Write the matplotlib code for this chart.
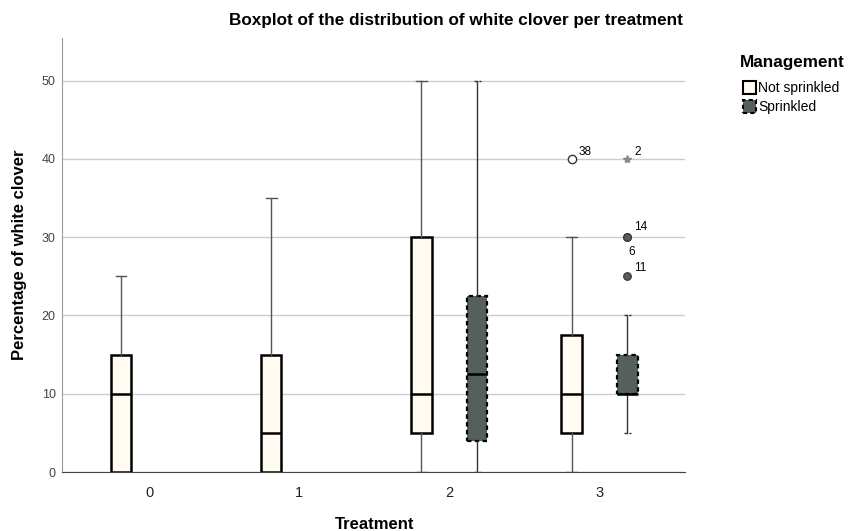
import matplotlib
matplotlib.use("Agg")
import matplotlib.pyplot as plt
from matplotlib.patches import Patch

plt.rcParams['font.family'] = ['Liberation Sans', 'DejaVu Sans']

treatments = ["0", "1", "2", "3"]
management = ["Not sprinkled", "Sprinkled"]

# box statistics per (treatment, management): whislo, q1, med, q3, whishi
ns_stats = {
    "0": [0, 0, 10, 15, 25],
    "1": [0, 0, 5, 15, 35],
    "2": [0, 5, 10, 30, 50],
    "3": [0, 5, 10, 17.5, 30],
}
s_stats = {
    "2": [0, 4, 12.5, 22.5, 50],
    "3": [5, 10, 10, 15, 20],
}
# outliers: (treatment, value, case label, kind)
ns_outliers = [("3", 40, "38", "o")]
s_outliers = [("3", 40, "2", "*"), ("3", 30, "14", "o"), ("3", 30, "6", "o"), ("3", 25, "11", "o")]

ns_color = "#FFFBF0"
s_color = "#56605A"

fig = plt.figure(figsize=(8.5, 5.31), dpi=100)
ax = fig.add_axes([0.073, 0.111, 0.733, 0.817])

offset = 0.186
width = 0.135

def mk(st):
    return dict(whislo=st[0], q1=st[1], med=st[2], q3=st[3], whishi=st[4], fliers=[])

ns_pos = [treatments.index(t) - offset for t in ns_stats]
ax.bxp([mk(v) for v in ns_stats.values()], positions=ns_pos, widths=width,
       patch_artist=True, showfliers=False,
       boxprops=dict(facecolor=ns_color, edgecolor="black", linewidth=1.8),
       medianprops=dict(color="black", linewidth=1.8),
       whiskerprops=dict(color="#555555", linewidth=1.0),
       capprops=dict(color="#555555", linewidth=1.0), capwidths=0.07)

s_pos = [treatments.index(t) + offset for t in s_stats]
ax.bxp([mk(v) for v in s_stats.values()], positions=s_pos, widths=width,
       patch_artist=True, showfliers=False,
       boxprops=dict(facecolor=s_color, edgecolor="black", linewidth=1.6, linestyle=(0, (2, 1.5))),
       medianprops=dict(color="black", linewidth=1.8),
       whiskerprops=dict(color="#333333", linewidth=1.0),
       capprops=dict(color="#333333", linewidth=1.0, linestyle=(0, (2, 1.5))), capwidths=0.05)

for t, v, lab, kind in ns_outliers:
    x = treatments.index(t) - offset
    ax.plot(x, v, marker="o", ms=6, mfc="white", mec="#333333", mew=1.0, ls="none", zorder=5)
    ax.annotate(lab, (x, v), xytext=(5, 3), textcoords="offset points", fontsize=8.5)

s_label_offsets = {"2": (5, 3), "14": (5, 5), "6": (1, -13), "11": (5, 4)}
for t, v, lab, kind in s_outliers:
    x = treatments.index(t) + offset
    if kind == "*":
        ax.plot(x, v, marker="*", ms=6, color="#888888", ls="none", zorder=5)
    else:
        ax.plot(x, v, marker="o", ms=5.5, mfc=s_color, mec="#333333", mew=0.8, ls="none", zorder=5)
    ax.annotate(lab, (x, v), xytext=s_label_offsets[lab], textcoords="offset points", fontsize=8.5)

ax.set_xlim(-0.58, 3.57)
ax.set_ylim(0, 55.4)
ax.set_xticks(range(len(treatments)))
ax.set_xticklabels(treatments, fontsize=10.5, color="#222222")
ax.set_yticks([0, 10, 20, 30, 40, 50])
ax.tick_params(axis="y", labelsize=9, colors="#444444", length=0, pad=4.5)
ax.tick_params(axis="x", length=0, pad=10)
ax.yaxis.grid(True, color="#CCCCCC", linewidth=1.0)
ax.set_axisbelow(True)
for s in ["top", "right"]:
    ax.spines[s].set_visible(False)
ax.spines["left"].set_color("#999999")
ax.spines["bottom"].set_color("#444444")

ax.set_ylabel("Percentage of white clover", fontsize=12, fontweight="bold")
ax.yaxis.set_label_coords(-0.056, 0.5)
ax.set_xlabel("Treatment", fontsize=12, fontweight="bold", va="center")
ax.xaxis.set_label_coords(0.502, -0.12)
fig.text(0.536, 0.962, "Boxplot of the distribution of white clover per treatment",
         ha="center", va="center", fontsize=12.3, fontweight="bold")

fig.text(740 / 850, 1 - 62 / 531, "Management", ha="left", va="center",
         fontsize=12.3, fontweight="bold")
handles = [Patch(facecolor=ns_color, edgecolor="black", linewidth=1.5),
           Patch(facecolor=s_color, edgecolor="black", linewidth=1.5, linestyle=(0, (2, 1.5)))]
leg = fig.legend(handles, management, loc="upper left", bbox_to_anchor=(743 / 850, 1 - 81 / 531),
                 frameon=False, fontsize=10, borderaxespad=0,
                 handlelength=0.95, handleheight=1.1, handletextpad=0.15, labelspacing=0.3,
                 borderpad=0)

fig.savefig("out.png", dpi=100)
